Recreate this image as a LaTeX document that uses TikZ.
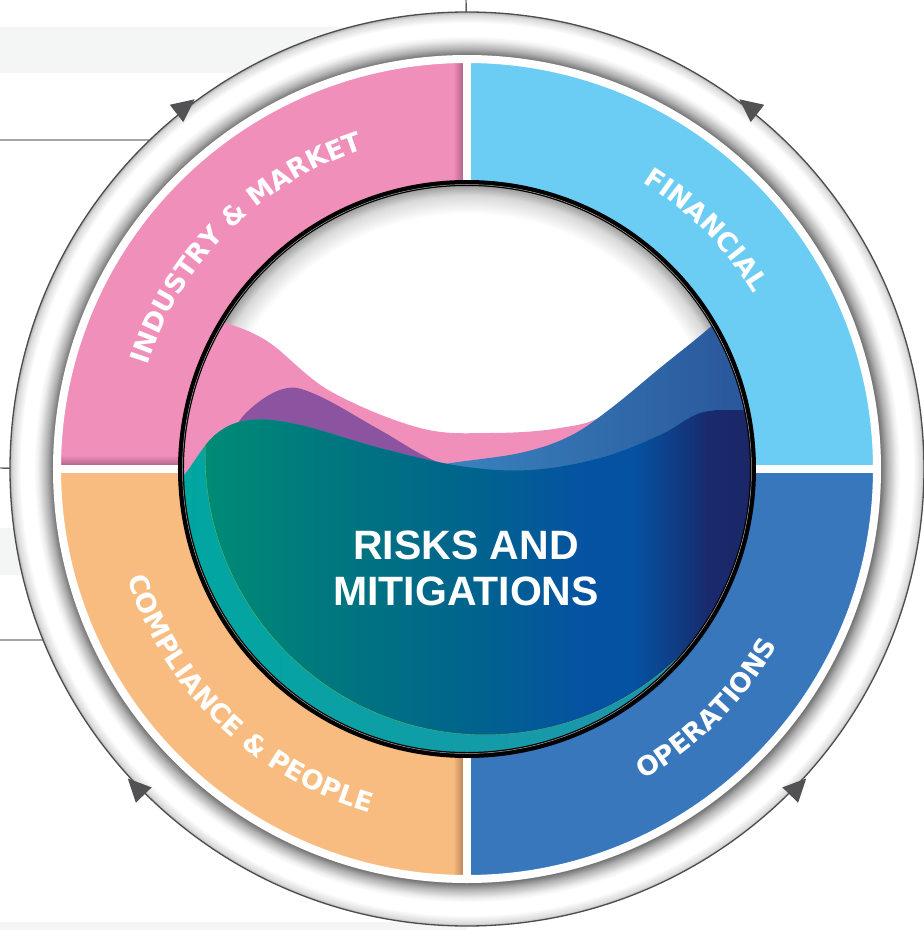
\documentclass[tikz,border=0pt]{standalone}
\usepackage{fontspec}
\setmainfont{Liberation Sans}
\newfontfamily\ringface{DejaVu Sans Bold}
\usetikzlibrary{decorations.text}

% colours for the shadings
\definecolor{blobgreen}{RGB}{0,142,116}
\definecolor{blobteal}{RGB}{0,120,126}
\definecolor{blobmid}{RGB}{0,100,140}
\definecolor{blobblue}{RGB}{5,82,162}
\definecolor{blobnavy}{RGB}{28,36,100}

\pgfdeclareradialshading{ringshade}{\pgfpoint{0bp}{0bp}}{color(0bp)=(white); color(22.35bp)=(white); color(22.65bp)=(black!55); color(23bp)=(black!30); color(23.45bp)=(black!7); color(23.7bp)=(white); color(24.4bp)=(white); color(24.85bp)=(black!14); color(25bp)=(black!30); color(50bp)=(black!30)}
\pgfdeclareradialshading{innershade}{\pgfpoint{0bp}{0bp}}{color(0bp)=(white); color(22.4bp)=(white); color(24bp)=(black!15); color(25bp)=(black!42); color(50bp)=(black!42)}
\pgfdeclarehorizontalshading{blobshade}{100bp}{color(0bp)=(blobgreen); color(27bp)=(blobgreen); color(38bp)=(blobteal); color(50bp)=(blobmid); color(60bp)=(blobblue); color(64bp)=(blobblue); color(70bp)=(blobnavy!85!blobblue); color(75bp)=(blobnavy); color(100bp)=(blobnavy)}

\begin{document}
\begin{tikzpicture}[x=1pt, y=1pt,
    ringtext/.style={decorate, decoration={text along path, text align=center, text color=white,
        text={|\ringface\fontsize{26.5}{30}\selectfont|#1}}},
    pageline/.style={black, line width=0.9},
    ringedge/.style={draw=black!70, line width=1.3}]
    % colours
    \definecolor{pinkseg}{RGB}{241,143,187}
    \definecolor{pinkdark}{RGB}{180,100,140}
    \definecolor{finblue}{RGB}{108,205,244}
    \definecolor{opblue}{RGB}{56,119,188}
    \definecolor{orangeseg}{RGB}{249,188,128}
    \definecolor{orangedark}{RGB}{190,135,90}
    \definecolor{wavepurple}{RGB}{140,84,160}
    \definecolor{waveblueA}{RGB}{60,136,196}
    \definecolor{waveblueB}{RGB}{40,84,152}
    \definecolor{rimteal}{RGB}{0,166,160}
    \definecolor{rimblue}{RGB}{36,146,176}
    \definecolor{arrowgrey}{RGB}{82,82,85}
    \definecolor{bandgrey}{RGB}{244,246,245}

    \useasboundingbox (-467,-461) rectangle (457,469);
    \fill[white] (-467,-461) rectangle (457,469);

    % 1. page bits behind the wheel
    \fill[bandgrey] (-467,396) rectangle (-117,442);
    \fill[bandgrey] (-467,-106) rectangle (-300,-59);
    \fill[bandgrey] (-467,-461) rectangle (0,-453);
    \coordinate (lineA) at (-467,329);
    \coordinate (lineB) at (-467,1);
    \coordinate (lineC) at (-467,-171);
    \coordinate (lineD) at (-1,469);
    \coordinate (ringA) at (133.95:457);
    \coordinate (ringB) at (179.9:457);
    \coordinate (ringC) at (201.97:457);
    \coordinate (ringD) at (90.1:457);
    \draw[pageline] (lineA) -- (ringA);
    \draw[pageline] (lineB) -- (ringB);
    \draw[pageline] (lineC) -- (ringC);
    \draw[pageline] (lineD) -- (ringD);

    % 2. outer ring
    \shade[shading=ringshade] (0,0) circle (457);
    \draw[ringedge] (0,0) circle (457);
    \foreach \a/\d in {128/38, 52/142, 224/134, 316/406}
        \fill[arrowgrey, shift={(\a:459)}, rotate=\d] (13,0) -- (-10,11) -- (-10,-11) -- cycle;

    % 3. the four sectors
    \fill[pinkseg] (0,0) -- (90:410) arc[start angle=90, end angle=180, radius=410] -- cycle;
    \fill[finblue] (0,0) -- (0:410) arc[start angle=0, end angle=90, radius=410] -- cycle;
    \fill[opblue] (0,0) -- (270:410) arc[start angle=270, end angle=360, radius=410] -- cycle;
    \fill[orangeseg] (0,0) -- (180:410) arc[start angle=180, end angle=270, radius=410] -- cycle;
    \begin{scope}
        \clip (0,0) circle (410);
        \shade[left color=pinkseg, right color=pinkdark] (-14,0) rectangle (-4,412);
        \shade[top color=pinkseg, bottom color=pinkdark] (-412,14) rectangle (-4,4);
        \shade[left color=orangeseg, right color=orangedark] (-14,-412) rectangle (-4,-280);
    \end{scope}
    \draw[white, line width=8] (0,-414) -- (0,414) (-414,0) -- (414,0);
    \draw[white, line width=8] (0,0) circle (410);

    % 4. inner circle with the waves
    \fill[white] (0,0) circle (286);
    \begin{scope}
        \clip (0,0) circle (285);
        \shade[shading=innershade] (0,0) circle (285);
        % pink wave
        \fill[pinkseg] (-300,-300) -- (-300,165) -- plot[smooth, tension=0.6] coordinates {(-290,163) (-249,149) (-200,128) (-137,78) (-47,41) (23,36) (93,41) (143,57) (233,119) (300,172)} -- (300,-300) -- cycle;
        % purple wave
        \fill[wavepurple] (-300,-300) -- (-300,-40) -- plot[smooth, tension=0.6] coordinates {(-290,-35) (-250,12) (-222,55) (-184,80) (-150,74) (-87,39) (-27,6) (53,-16) (150,-40) (300,-60)} -- (300,-300) -- cycle;
        % blue wave
        \shade[left color=waveblueA, right color=waveblueB] (-60,-300) -- (-60,-10) -- plot[smooth, tension=0.6] coordinates {(-60,-8) (-27,4) (53,16) (103,33) (143,60) (193,101) (248,146) (300,196)} -- (300,-300) -- cycle;
        % teal rim and the big blob
        \begin{scope}
            \clip (-300,-300) -- (-300,-25) -- plot[smooth, tension=0.6] coordinates {(-300,-25) (-282,-5) (-252,34) (-217,49) (-167,44) (-87,21) (-7,3) (63,-1) (133,11) (193,34) (233,56) (273,59) (300,55)} -- (300,-300) -- cycle;
            \shade[left color=rimteal, right color=rimblue] (-290,-290) rectangle (290,70);
            \clip (18,14) circle (280);
            \shade[shading=blobshade] (-300,-300) rectangle (300,70);
            \draw[rimteal!60!yellow, line width=0.6] (18,14) circle (280);
        \end{scope}
    \end{scope}
    \draw[line width=6] (0,0) circle (286);
    \draw[black!35, line width=0.5] (0,0) circle (284.5);

    % 5. labels
    \path[ringtext={INDUSTRY {\&} MARKET}] (170:336) arc[start angle=170, end angle=100, radius=336];
    \path[ringtext={FINANCIAL}] (85:336) arc[start angle=85, end angle=5, radius=336];
    \path[ringtext={OPERATIONS}] (-85:357) arc[start angle=-85, end angle=-5, radius=357];
    \path[ringtext={COMPLIANCE {\&} PEOPLE}] (186:357) arc[start angle=186, end angle=266, radius=357];
    \node[text=white, align=center, font=\bfseries\fontsize{41}{46}\selectfont] (title) at (-1,-99) {RISKS AND\\MITIGATIONS};

\end{tikzpicture}
\end{document}
